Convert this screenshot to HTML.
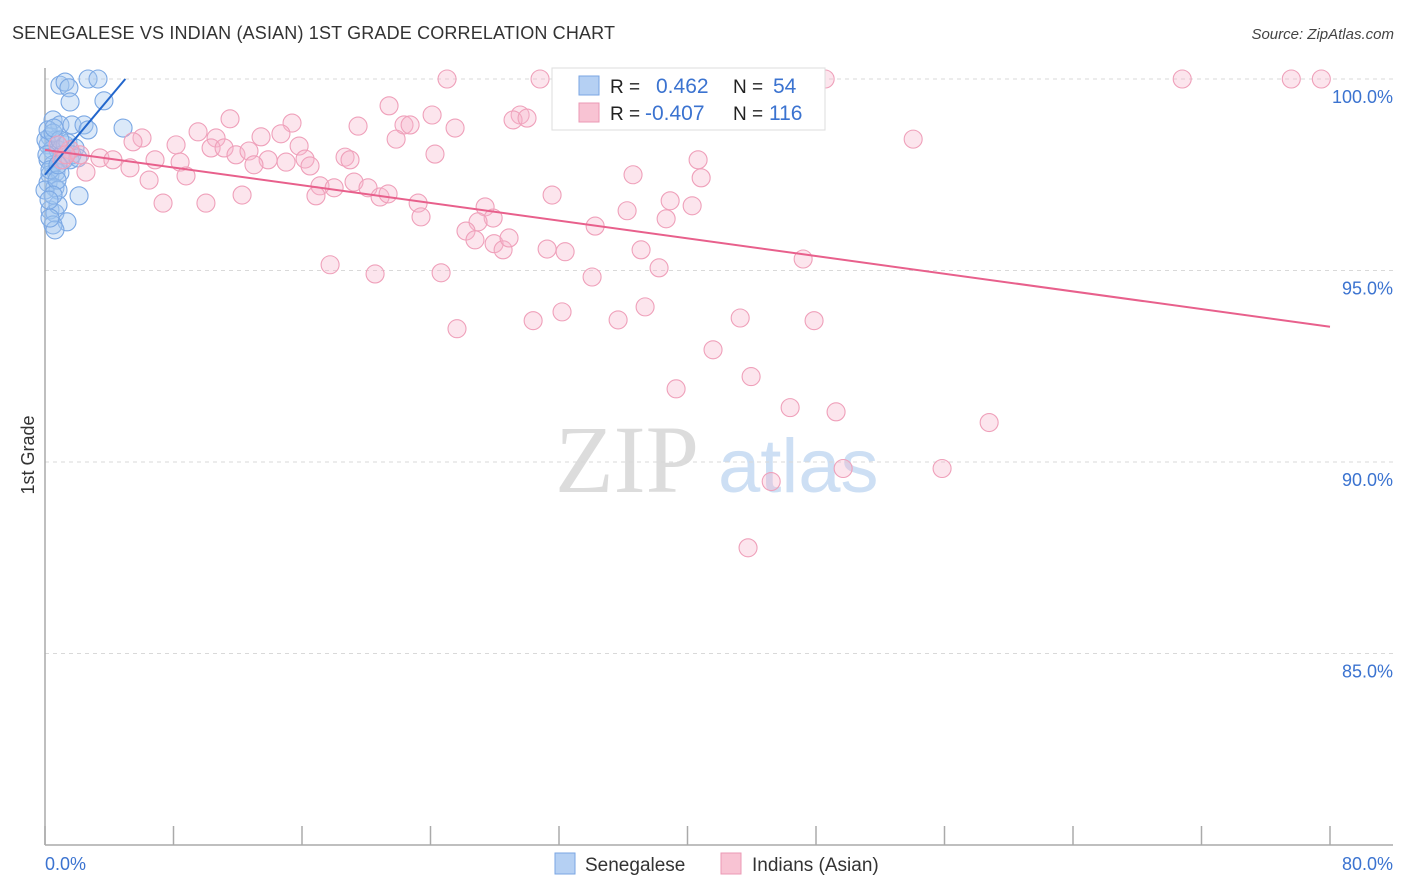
<!DOCTYPE html>
<html><head><meta charset="utf-8"><style>
html,body{margin:0;padding:0;background:#fff;width:1406px;height:892px;overflow:hidden;font-family:"Liberation Sans",sans-serif;}
</style></head><body>
<svg id="chart" width="1406" height="892" xmlns="http://www.w3.org/2000/svg" font-family="Liberation Sans, sans-serif">
<text x="12" y="39" font-size="18" fill="#333" textLength="603">SENEGALESE VS INDIAN (ASIAN) 1ST GRADE CORRELATION CHART</text>
<text x="1394" y="39" font-size="15" fill="#444" font-style="italic" text-anchor="end">Source: ZipAtlas.com</text>
<g>
<text x="555" y="492" font-size="96" fill="#dcdcdc" font-family="Liberation Serif, serif">ZIP</text>
<text x="718" y="492" font-size="76" fill="#cddff4">atlas</text>
</g>
<g id="grid"></g>
<g id="axes"></g>
<g id="blue-pts"></g>
<g id="pink-pts"></g>
<g id="lines"></g>
<text transform="translate(34,455) rotate(-90)" font-size="18" fill="#333" text-anchor="middle">1st Grade</text>
<g>
<rect x="552" y="68" width="273" height="62" fill="#fff" stroke="#ddd"/>
<rect x="579" y="76" width="20" height="19" fill="#b5d0f3" stroke="#7aa6e3"/>
<rect x="579" y="103" width="20" height="19" fill="#f8c3d3" stroke="#eb9ab4"/>
<text x="610" y="93" font-size="19" fill="#222">R =</text>
<text x="656" y="93" font-size="21" fill="#3b73d0">0.462</text>
<text x="733" y="93" font-size="19" fill="#222">N =</text>
<text x="773" y="93" font-size="21" fill="#3b73d0">54</text>
<text x="610" y="120" font-size="19" fill="#222">R =</text>
<text x="645" y="120" font-size="21" fill="#3b73d0">-0.407</text>
<text x="733" y="120" font-size="19" fill="#222">N =</text>
<text x="769" y="120" font-size="21" fill="#3b73d0">116</text>
</g>
<g>
<rect x="555" y="853" width="20" height="21" fill="#b5d0f3" stroke="#7aa6e3"/>
<text x="585" y="871" font-size="19" fill="#333">Senegalese</text>
<rect x="721" y="853" width="20" height="21" fill="#f8c3d3" stroke="#eb9ab4"/>
<text x="752" y="871" font-size="19" fill="#333">Indians (Asian)</text>
</g>
</svg>
<script>
const yTicks=[100,95,90,85];
const yTickLabels=["100.0%","95.0%","90.0%","85.0%"];
const xTicks=[0,8,16,24,32,40,48,56,64,72,80];
const xTickLabels=["0.0%","80.0%"];
const blueX=[0.93,1.25,1.49,2.68,3.30,3.67,1.56,0.50,0.93,1.68,2.43,2.68,4.86,0.31,0.62,0.19,0.44,0.81,1.25,0.19,0.50,0.68,0.31,0.93,0.19,0.62,0.81,2.12,0.31,0.62,0.81,1.37,0.50,0.62,0.31,1.06,1.43,1.87,0.06,0.19,0.50,0.12,0.31,0,0.75,1.18,1.56,1.68,0.81,0.50,0.25,0.93,0.56,2.05];
const blueY=[99.84,99.92,99.77,100,100,99.43,99.40,98.93,98.80,98.80,98.80,98.67,98.72,98.49,98.41,98.28,98.15,98.15,98.28,97.89,97.76,97.57,97.50,97.55,97.29,97.16,97.10,96.95,96.58,96.50,96.71,96.27,96.19,96.06,96.37,98.02,98.33,98.20,98.41,98.67,98.59,98.02,97.63,97.10,97.36,97.89,97.89,98.02,97.76,96.97,96.84,98.41,98.72,97.94];
const pinkX=[25.03,30.82,48.57,70.8,77.59,79.46,46.82,21.42,24.10,29.58,29.14,30.01,11.52,15.38,19.49,22.35,22.73,25.53,54.05,9.53,6.04,5.48,8.16,10.65,13.45,14.69,15.82,21.86,10.34,11.15,11.89,12.70,13.89,15.01,16.19,18.68,18.99,24.28,40.66,2.18,3.42,4.23,5.29,6.85,8.41,8.78,6.48,13.01,16.50,17.12,18.00,19.24,20.11,20.86,21.36,23.23,23.41,31.57,36.61,40.85,7.35,10.02,12.27,16.87,27.40,27.90,26.96,26.21,26.77,27.96,28.52,28.89,31.26,32.38,34.25,36.24,38.92,40.29,38.67,37.11,38.23,47.20,17.75,20.55,24.66,34.06,25.65,30.39,32.19,35.68,37.36,43.28,47.88,41.59,39.29,43.96,46.39,49.25,58.78,49.69,55.85,45.21,43.77,2.55,1.56,1.06,0.81,1.31];
const pinkY=[100,100,100,100,100,100,100,99.30,99.06,99.06,98.93,98.98,98.96,98.85,98.77,98.80,98.80,98.72,98.43,98.62,98.46,98.36,98.28,98.46,98.49,98.57,98.25,98.43,98.20,98.20,98.02,98.12,97.89,97.83,97.91,97.96,97.89,98.04,97.89,98.02,97.94,97.89,97.68,97.89,97.83,97.47,97.36,97.76,97.73,97.21,97.16,97.31,97.16,96.92,97.00,96.76,96.40,96.97,97.50,97.42,96.76,96.76,96.97,96.95,96.66,96.37,96.27,96.03,95.80,95.70,95.54,95.85,95.56,95.49,96.16,96.56,96.82,96.69,96.35,95.54,95.07,95.30,95.15,94.91,94.94,94.83,93.48,93.69,93.92,93.71,94.05,93.76,93.69,92.93,91.91,92.23,91.42,91.31,91.03,89.83,89.83,89.49,87.76,97.57,98.15,97.89,98.28,98.02];
const blueTrend=[[0,97.5],[5,100]];
const pinkTrend=[[0,98.15],[80,93.53]];

const NS="http://www.w3.org/2000/svg";
const X0=45,X1=1330,Y0=79,Y1=845;
function sx(v){return X0+(v-0)/80*(X1-X0);}
function sy(v){return Y0+(100-v)/20*(Y1-Y0);}
function mk(tag,attrs,parent){const e=document.createElementNS(NS,tag);for(const k in attrs)e.setAttribute(k,attrs[k]);parent.appendChild(e);return e;}

const grid=document.getElementById('grid');
yTicks.forEach((t,i)=>{
  const l=mk('line',{x1:X0,x2:1393,y1:sy(t),y2:sy(t),stroke:'#d9d9d9','stroke-dasharray':'4,4'},grid);
  
  
  const tx=mk('text',{x:1393,y:sy(t)+24,'font-size':18,fill:'#3b73d0','text-anchor':'end'},grid);
  tx.textContent=yTickLabels[i];
  
  
});
const axes=document.getElementById('axes');
const ya=mk('line',{x1:X0,x2:X0,y1:68,y2:Y1,stroke:'#aaa','stroke-width':1.5},axes);


const xa=mk('line',{x1:X0,x2:1393,y1:Y1,y2:Y1,stroke:'#aaa','stroke-width':1.5},axes);


xTicks.forEach(t=>{
  const l=mk('line',{x1:sx(t),x2:sx(t),y1:826,y2:Y1,stroke:'#aaa','stroke-width':1.5},axes);
  
  
});
const xl0=mk('text',{x:X0,y:870,'font-size':18,fill:'#3b73d0'},axes);
xl0.textContent=xTickLabels[0];


const xl1=mk('text',{x:1393,y:870,'font-size':18,fill:'#3b73d0','text-anchor':'end'},axes);
xl1.textContent=xTickLabels[1];



const bg=document.getElementById('blue-pts');
blueX.forEach((x,i)=>{
  const c=mk('circle',{cx:sx(x),cy:sy(blueY[i]),r:9,fill:'rgba(160,196,240,0.38)',stroke:'#7ba8e4','stroke-width':1.1},bg);
  
  
});
const pg=document.getElementById('pink-pts');
pinkX.forEach((x,i)=>{
  const c=mk('circle',{cx:sx(x),cy:sy(pinkY[i]),r:9,fill:'rgba(247,180,202,0.35)',stroke:'#efa0ba','stroke-width':1.1},pg);
  
  
});
const lg=document.getElementById('lines');
const bl=mk('line',{x1:sx(blueTrend[0][0]),y1:sy(blueTrend[0][1]),x2:sx(blueTrend[1][0]),y2:sy(blueTrend[1][1]),stroke:'#2266cc','stroke-width':2},lg);


const pl=mk('line',{x1:sx(pinkTrend[0][0]),y1:sy(pinkTrend[0][1]),x2:sx(pinkTrend[1][0]),y2:sy(pinkTrend[1][1]),stroke:'#e8608c','stroke-width':2},lg);


</script>
</body></html>
